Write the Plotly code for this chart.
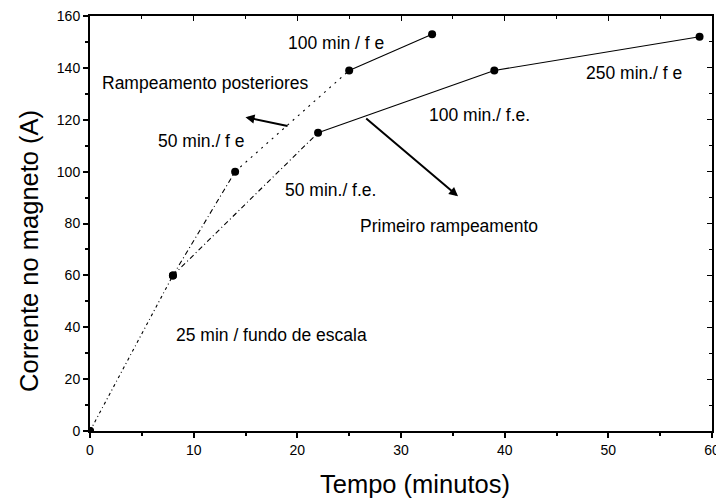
import plotly.graph_objects as go

# Ramp-up of the magnet current: first ramp and later ramps
tempo_primeiro = [0, 8, 22, 39, 58.8]
corrente_primeiro = [0, 60, 115, 139, 152]

tempo_posteriores = [0, 8, 14, 25, 33]
corrente_posteriores = [0, 60, 100, 139, 153]

x_ticks = [0, 10, 20, 30, 40, 50, 60]
y_ticks = [0, 20, 40, 60, 80, 100, 120, 140, 160]

# Segment line styles (one per consecutive pair of points)
estilo_primeiro = ["3px,3px,1px,3px", "5px,3px,1px,3px", "solid", "solid"]
estilo_posteriores = ["3px,3px,1px,3px", "5px,3px,1px,3px", "2px,5px", "solid"]

FONT = "Liberation Sans, Arial, sans-serif"

fig = go.Figure()


def add_series(xs, ys, estilos, skip_first=False):
    for i, dash in enumerate(estilos):
        if skip_first and i == 0:
            continue
        fig.add_trace(go.Scatter(
            x=xs[i:i + 2], y=ys[i:i + 2], mode="lines",
            line=dict(color="black", width=1.1, dash=dash),
            hoverinfo="skip", showlegend=False,
        ))
    fig.add_trace(go.Scatter(
        x=xs, y=ys, mode="markers",
        marker=dict(color="black", size=8),
        showlegend=False,
    ))


add_series(tempo_primeiro, corrente_primeiro, estilo_primeiro)
add_series(tempo_posteriores, corrente_posteriores, estilo_posteriores, skip_first=True)

# Invisible trace on the mirrored axes so top/right ticks are drawn
fig.add_trace(go.Scatter(x=[0], y=[0], xaxis="x2", yaxis="y2", mode="markers",
                         marker=dict(opacity=0), hoverinfo="skip", showlegend=False))

labels = [
    ("100 min / f e", 23.7, 149.6),
    ("Rampeamento posteriores", 11.1, 134.2),
    ("50 min./ f e", 10.8, 112),
    ("50 min./ f.e.", 23.2, 93),
    ("100 min./ f.e.", 37.6, 122),
    ("250 min./ f e", 52.5, 138),
    ("Primeiro rampeamento", 34.6, 79),
    ("25 min / fundo de escala", 17.5, 37),
]
for text, x, y in labels:
    fig.add_annotation(x=x, y=y, text=text, showarrow=False,
                       font=dict(family=FONT, size=17.5, color="black"))

# Arrows pointing from each curve to its label
fig.add_annotation(x=35.5, y=90.5, ax=26.5, ay=121, axref="x", ayref="y",
                   xref="x", yref="y", text="", showarrow=True,
                   arrowhead=2, arrowsize=0.9, arrowwidth=2, arrowcolor="black")
fig.add_annotation(x=15.0, y=121, ax=19.2, ay=117.5, axref="x", ayref="y",
                   xref="x", yref="y", text="", showarrow=True,
                   arrowhead=2, arrowsize=0.9, arrowwidth=2, arrowcolor="black")

# Axis titles
fig.add_annotation(x=0.5225, y=-0.128, xref="paper", yref="paper",
                   xanchor="center", yanchor="middle",
                   text="Tempo (minutos)", showarrow=False,
                   font=dict(family=FONT, size=25.5, color="black"))
fig.add_annotation(x=-0.097, y=0.433, xref="paper", yref="paper",
                   xanchor="center", yanchor="middle",
                   text="Corrente no magneto (A)", textangle=-90, showarrow=False,
                   font=dict(family=FONT, size=25.5, color="black"))

axis_common = dict(showline=True, linecolor="black", linewidth=2, showgrid=False,
                   zeroline=False, automargin=False)

fig.update_layout(
    width=716, height=502,
    margin=dict(l=90, r=4, t=16, b=71),
    paper_bgcolor="white", plot_bgcolor="white",
    font=dict(family=FONT, color="black"),
    xaxis=dict(range=[0, 60], tickvals=x_ticks, ticks="outside", ticklen=5,
               tickwidth=1.5, tickcolor="black", ticklabeloverflow="allow",
               minor=dict(dtick=5, ticks="outside", ticklen=3, tickcolor="black"),
               tickfont=dict(size=14, family=FONT), **axis_common),
    yaxis=dict(range=[0, 160], tickvals=y_ticks, ticks="outside", ticklen=5,
               tickwidth=1.5, tickcolor="black", ticklabeloverflow="allow",
               minor=dict(dtick=10, ticks="outside", ticklen=3, tickcolor="black"),
               tickfont=dict(size=14, family=FONT), **axis_common),
    xaxis2=dict(range=[0, 60], overlaying="x", side="top", tickvals=x_ticks,
                ticks="inside", ticklen=5, tickcolor="black", showticklabels=False,
                minor=dict(dtick=5, ticks="inside", ticklen=3, tickcolor="black"),
                **axis_common),
    yaxis2=dict(range=[0, 160], overlaying="y", side="right", tickvals=y_ticks,
                ticks="inside", ticklen=5, tickcolor="black", showticklabels=False,
                minor=dict(dtick=10, ticks="inside", ticklen=3, tickcolor="black"),
                **axis_common),
)

fig.write_html("out.html")
